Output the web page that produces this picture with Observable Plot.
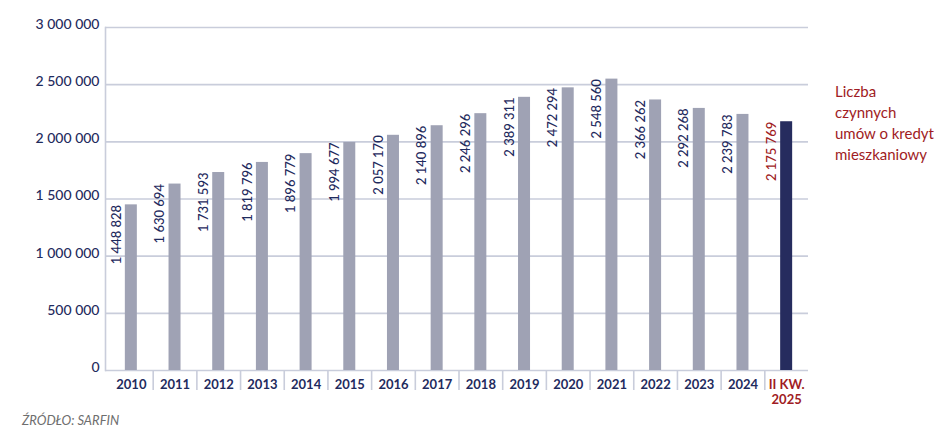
<!DOCTYPE html>
<html>
<head>
<meta charset="utf-8">
<script src="https://cdn.jsdelivr.net/npm/d3@7"></script>
<script src="https://cdn.jsdelivr.net/npm/@observablehq/plot@0.6"></script>
<style>
  html, body { margin: 0; padding: 0; background: #fff; }
  #wrap { position: relative; width: 948px; height: 447px; font-family: Lato, "Open Sans", sans-serif; }
  #legend { position: absolute; left: 835px; top: 81px; font-size: 15px; line-height: 21px; color: #a01c24; }
  #source { position: absolute; left: 22px; top: 412px; font-size: 13px; line-height: 16px; font-style: italic; color: #6e6e6e; }
</style>
</head>
<body>
<div id="wrap">
  <div id="chart"></div>
  <div id="legend">Liczba<br>czynnych<br>umów o kredyt<br>mieszkaniowy</div>
  <div id="source">ŹRÓDŁO: SARFIN</div>
</div>
<script>
const categories = ["2010","2011","2012","2013","2014","2015","2016","2017","2018","2019","2020","2021","2022","2023","2024","II KW.\n2025"];
const values = [1448828,1630694,1731593,1819796,1896779,1994677,2057170,2140896,2246296,2389311,2472294,2548560,2366262,2292268,2239783,2175769];
const highlighted = ["II KW.\n2025"];
const yTicks = [0,500000,1000000,1500000,2000000,2500000,3000000];

const data = categories.map((c, i) => ({cat: c, value: values[i], hl: highlighted.includes(c)}));

const navy = "#1f2b5e";
const red = "#a01c24";
const grey = "#9fa2b4";
const darkBar = "#262c5e";
const grid = "#c9cddb";
const fmt = d => d3.format(",")(d).replace(/,/g, " ");

const width = 948, height = 447;
const marginLeft = 105, marginRight = 140, marginTop = 27, marginBottom = 77;
const insetLeft = 4;
const bw = (width - marginLeft - insetLeft - marginRight) / categories.length;
const barW = 12;

const chart = Plot.plot({
  width, height, marginLeft, marginRight, marginTop, marginBottom,
  style: {fontFamily: "Lato, 'Open Sans', sans-serif", background: "#fff"},
  x: {type: "band", domain: categories, padding: 0, round: false, insetLeft, axis: null},
  y: {domain: [0, 3000000], axis: null},
  marks: [
    Plot.ruleY(yTicks, {stroke: grid, strokeWidth: 1.6}),
    Plot.frame({anchor: "left", stroke: grid, strokeWidth: 1.6}),
    Plot.axisY(yTicks, {tickSize: 0, tickPadding: 6, tickFormat: fmt, fontSize: 14, fill: navy, dy: -3, fontWeight: 500, label: null}),
    Plot.axisX(categories.slice(1), {tickSize: 19, tickFormat: () => "", dx: -bw / 2, stroke: grid, strokeWidth: 1.6, dy: 1, label: null}),
    Plot.barY(data, {x: "cat", y: "value", fill: d => d.hl ? darkBar : grey, insetLeft: (bw - barW) / 2, insetRight: (bw - barW) / 2}),
    Plot.text(data, {x: "cat", y: "value", text: d => fmt(d.value), rotate: -90, textAnchor: "end", lineAnchor: "middle", dx: -15, fontSize: 13, fill: d => d.hl ? red : navy, fontWeight: 500}),
    Plot.text(data, {x: "cat", frameAnchor: "bottom", text: "cat", lineAnchor: "top", dy: 8, fontSize: 13, fontWeight: "bold", lineHeight: 1.15, fill: d => d.hl ? red : navy})
  ]
});
document.getElementById("chart").appendChild(chart);
</script>
</body>
</html>
